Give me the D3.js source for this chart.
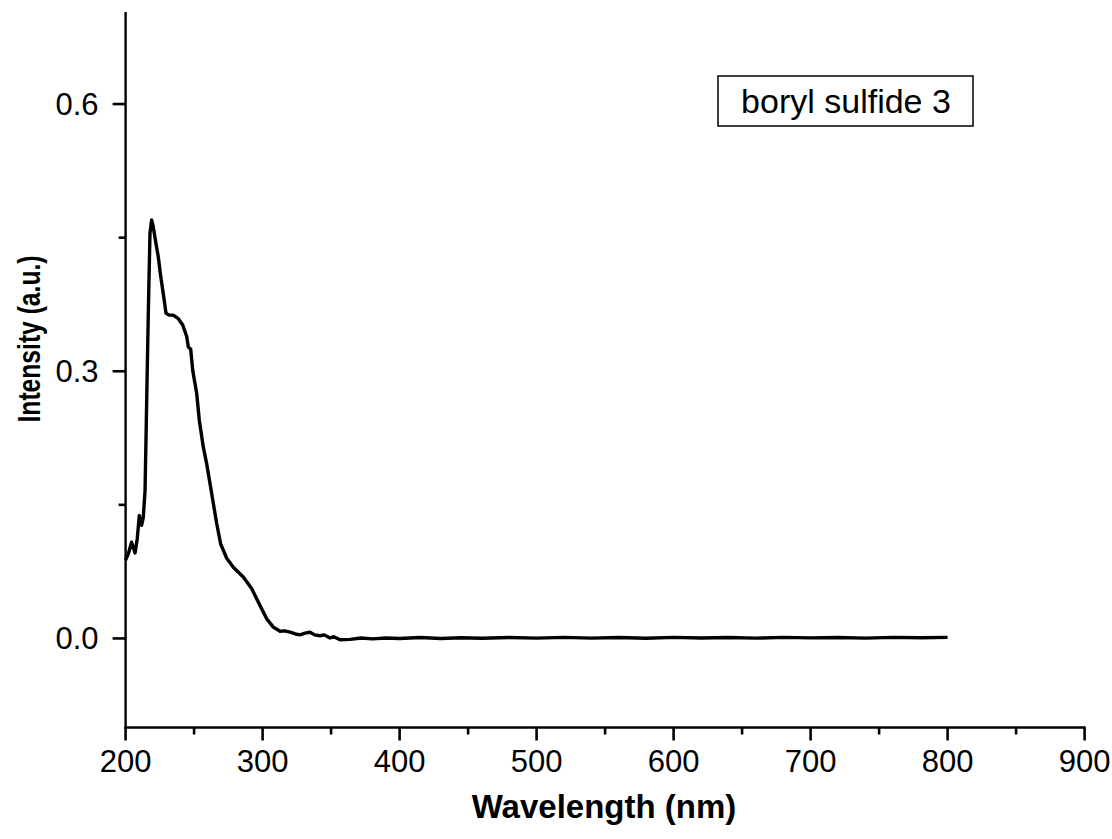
<!DOCTYPE html>
<html>
<head>
<meta charset="utf-8">
<script src="https://cdn.jsdelivr.net/npm/d3@7"></script>
<style>
  body { margin: 0; background: #fff; }
  text { font-family: "Liberation Sans", Arial, sans-serif; fill: #000; }
</style>
</head>
<body>
<div id="chart"></div>
<script>
// absorbance spectrum
const wavelength = [200, 202, 204.4, 206.9, 208.5, 210, 211.7, 212.9, 214.2, 215.4, 216.6, 217.8, 219, 220.2,
  222, 223.9, 225.5, 227.5, 229.5, 232, 234.8, 238.5, 241.7, 244.6, 245.8, 247.5, 249, 251.9, 253.8,
  256.7, 259.2, 262.8, 266.5, 269.4, 273.8, 278.6, 285.9, 292, 298.1, 303, 307.8, 312.7, 316, 320, 324, 327.3,
  331, 334.6, 338, 341.9, 345, 349.2, 352, 356.5, 363.8, 372, 380, 390, 400, 415, 430, 445, 460, 480, 500,
  520, 540, 560, 580, 600, 620, 640, 660, 680, 700, 720, 740, 760, 780, 800];
const intensity = [0.088, 0.095, 0.108, 0.096, 0.112, 0.138, 0.127, 0.136, 0.166, 0.267, 0.368, 0.455, 0.470, 0.462,
  0.445, 0.428, 0.408, 0.387, 0.365, 0.363, 0.363, 0.359, 0.352, 0.339, 0.327, 0.325, 0.301, 0.275, 0.245,
  0.215, 0.196, 0.163, 0.129, 0.106, 0.090, 0.080, 0.069, 0.056, 0.037, 0.022, 0.0127, 0.008, 0.0085, 0.007, 0.005, 0.004,
  0.006, 0.007, 0.004, 0.003, 0.004, 0.0005, 0.002, -0.0015, -0.001, 0.0005, -0.0005, 0.0005, 0.000, 0.001, 0.000, 0.0008, 0.0002, 0.001, 0.0003,
  0.0012, 0.0004, 0.001, 0.0002, 0.0012, 0.0005, 0.001, 0.0003, 0.0012, 0.0006, 0.001, 0.0004, 0.0012, 0.0008, 0.0012];

const xMajor = [200, 300, 400, 500, 600, 700, 800, 900];
const xMinor = [250, 350, 450, 550, 650, 750, 850];
const yMajor = [0.0, 0.3, 0.6];
const yMinor = [0.15, 0.45];
const legendLabel = 'boryl sulfide 3';

const width = 1112, height = 839;
const x0 = 125.6, x1 = 1084.6, yTop = 15, yBot = 727.5;

const svg = d3.select('#chart').append('svg')
  .attr('width', width)
  .attr('height', height);

const x = d3.scaleLinear().domain([200, 900]).range([x0, x1]);
const y = d3.scaleLinear().domain([-0.1, 0.7]).range([yBot, yTop]);

const data = wavelength.map((w, i) => ({ w, v: intensity[i] }));

// curve
svg.append('path')
  .datum(data)
  .attr('fill', 'none')
  .attr('stroke', '#000')
  .attr('stroke-width', 3.4)
  .attr('stroke-linejoin', 'round')
  .attr('d', d3.line().x(d => x(d.w)).y(d => y(d.v)));

// axis lines
svg.append('line')
  .attr('x1', x0).attr('x2', x0).attr('y1', yTop - 3).attr('y2', yBot + 1)
  .attr('stroke', '#000').attr('stroke-width', 2.4);
svg.append('line')
  .attr('x1', x0 - 1).attr('x2', x1 + 1).attr('y1', yBot).attr('y2', yBot)
  .attr('stroke', '#000').attr('stroke-width', 2.4);

// tick marks, drawn from the scales
const ticks = svg.append('g').attr('stroke', '#000').attr('stroke-width', 2.6);
ticks.selectAll('.xmaj').data(xMajor).join('line')
  .attr('x1', d => x(d)).attr('x2', d => x(d)).attr('y1', yBot).attr('y2', yBot + 13);
ticks.selectAll('.xmin').data(xMinor).join('line')
  .attr('x1', d => x(d)).attr('x2', d => x(d)).attr('y1', yBot).attr('y2', yBot + 7);
ticks.selectAll('.ymaj').data(yMajor).join('line')
  .attr('y1', d => y(d)).attr('y2', d => y(d)).attr('x1', x0).attr('x2', x0 - 13);
ticks.selectAll('.ymin').data(yMinor).join('line')
  .attr('y1', d => y(d)).attr('y2', d => y(d)).attr('x1', x0).attr('x2', x0 - 7);

// tick labels
svg.selectAll('.xlab').data(xMajor).join('text')
  .attr('x', d => x(d)).attr('y', yBot + 44)
  .attr('text-anchor', 'middle')
  .style('font-size', '31px')
  .text(d3.format('d'));
svg.selectAll('.ylab').data(yMajor).join('text')
  .attr('x', x0 - 27).attr('y', d => y(d) + 11)
  .attr('text-anchor', 'end')
  .style('font-size', '31px')
  .text(d3.format('.1f'));

// axis titles
svg.append('text')
  .attr('x', 604).attr('y', 818)
  .attr('text-anchor', 'middle')
  .style('font-size', '33px').style('font-weight', 'bold')
  .text('Wavelength (nm)');

svg.append('text')
  .attr('transform', 'translate(40,339) rotate(-90) scale(0.77,1)')
  .attr('text-anchor', 'middle')
  .style('font-size', '32px').style('font-weight', 'bold')
  .text('Intensity (a.u.)');

// legend box
svg.append('rect')
  .attr('x', 718).attr('y', 76).attr('width', 255).attr('height', 50)
  .attr('fill', '#fff').attr('stroke', '#000').attr('stroke-width', 1.5);
svg.append('text')
  .attr('x', 846).attr('y', 113)
  .attr('text-anchor', 'middle')
  .style('font-size', '34px')
  .text(legendLabel);
</script>
</body>
</html>
